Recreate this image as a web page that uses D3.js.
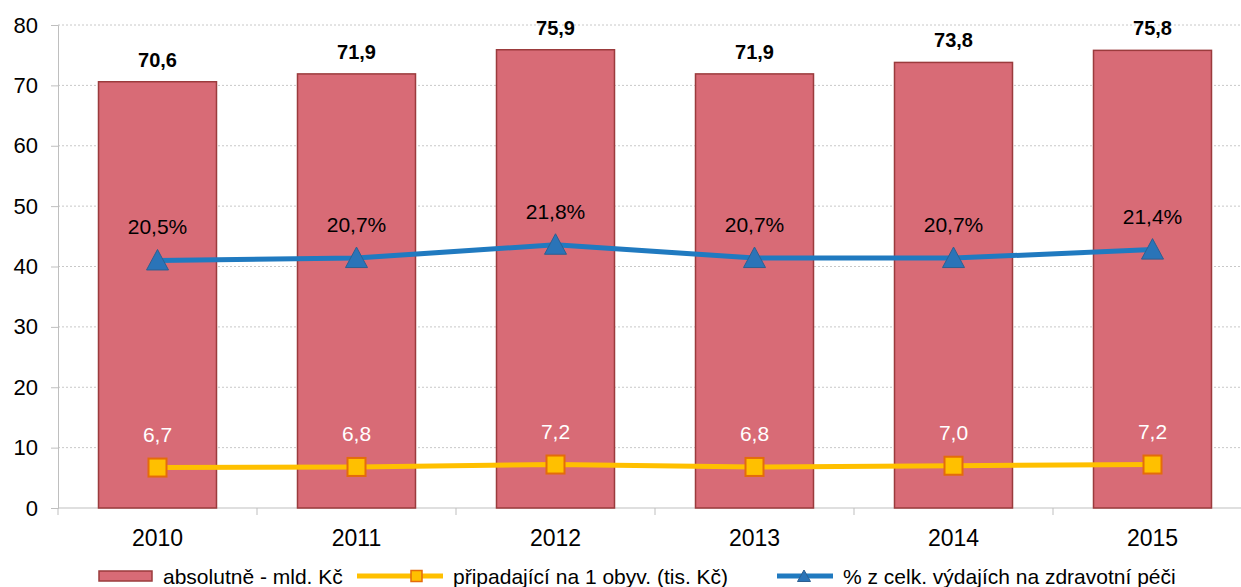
<!DOCTYPE html>
<html>
<head>
<meta charset="utf-8">
<script src="https://cdn.jsdelivr.net/npm/d3@7"></script>
<style>
  body { margin: 0; background: #fff; }
  text { font-family: "Liberation Sans", Arial, sans-serif; }
</style>
</head>
<body>
<div id="chart"></div>
<script>
// data
var years = ["2010", "2011", "2012", "2013", "2014", "2015"];
var absolutni = [70.6, 71.9, 75.9, 71.9, 73.8, 75.8];
var naObyv = [6.7, 6.8, 7.2, 6.8, 7.0, 7.2];
var podil = [20.5, 20.7, 21.8, 20.7, 20.7, 21.4];
var yTicks = [0, 10, 20, 30, 40, 50, 60, 70, 80];
var legendLabels = ["absolutně - mld. Kč", "připadající na 1 obyv. (tis. Kč)", "% z celk. výdajích na zdravotní péči"];

var W = 1241, H = 587;
var margin = {top: 25, left: 58, bottom: 79};
var plotBottom = H - margin.bottom;

var fmt = function(v) { return v.toFixed(1).replace(".", ","); };

var svg = d3.select("#chart").append("svg")
  .attr("width", W)
  .attr("height", H);

var x = d3.scaleBand()
  .domain(years)
  .range([margin.left, margin.left + 1194])
  .paddingInner(0.407)
  .paddingOuter(0.2035);

var y = d3.scaleLinear().domain([0, 80]).range([plotBottom, margin.top]);
// secondary axis for percentages (hidden)
var y2 = d3.scaleLinear().domain([0, 40]).range([plotBottom, margin.top]);

// gridlines
svg.append("g")
  .selectAll("line")
  .data(yTicks.filter(function(d) { return d > 0; }))
  .enter().append("line")
  .attr("x1", margin.left).attr("x2", W)
  .attr("y1", function(d) { return y(d); })
  .attr("y2", function(d) { return y(d); })
  .attr("stroke", "#c8c8c8")
  .attr("stroke-width", 1)
  .attr("stroke-dasharray", "2,2");

// y axis
var yAxis = svg.append("g")
  .attr("transform", "translate(" + margin.left + ",0)")
  .call(d3.axisLeft(y).tickValues(yTicks).tickSize(7).tickPadding(13).tickFormat(d3.format("d")));
yAxis.selectAll("path, line").attr("stroke", "#bfbfbf");
yAxis.selectAll("text").style("font-size", "22px").attr("fill", "#000");

// x axis with ticks at category boundaries
var bounds = d3.range(years.length + 1).map(function(i) { return margin.left + i * x.step(); });
svg.append("line")
  .attr("x1", margin.left).attr("x2", W)
  .attr("y1", plotBottom).attr("y2", plotBottom)
  .attr("stroke", "#bfbfbf");
svg.append("g").selectAll("line")
  .data(bounds)
  .enter().append("line")
  .attr("x1", function(d) { return d; }).attr("x2", function(d) { return d; })
  .attr("y1", plotBottom).attr("y2", plotBottom + 7)
  .attr("stroke", "#bfbfbf");
svg.append("g").selectAll("text")
  .data(years)
  .enter().append("text")
  .attr("x", function(d) { return x(d) + x.bandwidth() / 2; })
  .attr("y", plotBottom + 38)
  .attr("text-anchor", "middle")
  .style("font-size", "23px")
  .text(function(d) { return d; });

// bars
svg.append("g").selectAll("rect")
  .data(absolutni)
  .enter().append("rect")
  .attr("x", function(d, i) { return x(years[i]); })
  .attr("y", function(d) { return y(d); })
  .attr("width", x.bandwidth())
  .attr("height", function(d) { return plotBottom - y(d); })
  .attr("fill", "#d86b76")
  .attr("stroke", "#9b3b3d")
  .attr("stroke-width", 1.5);

svg.append("g").selectAll("text")
  .data(absolutni)
  .enter().append("text")
  .attr("x", function(d, i) { return x(years[i]) + x.bandwidth() / 2; })
  .attr("y", function(d) { return y(d) - 15; })
  .attr("text-anchor", "middle")
  .style("font-size", "20px")
  .style("font-weight", "bold")
  .text(fmt);

var cx = function(d, i) { return x(years[i]) + x.bandwidth() / 2; };

// blue line (percent)
var lineBlue = d3.line()
  .x(cx)
  .y(function(d) { return y2(d); });
svg.append("path")
  .datum(podil)
  .attr("d", lineBlue)
  .attr("fill", "none")
  .attr("stroke", "#207ac0")
  .attr("stroke-width", 5);
svg.append("g").selectAll("path")
  .data(podil)
  .enter().append("path")
  .attr("transform", function(d, i) { return "translate(" + cx(d, i) + "," + y2(d) + ")"; })
  .attr("d", "M0,-11L11,9.5L-11,9.5Z")
  .attr("fill", "#2a74b8")
  .attr("stroke", "#2d5f90")
  .attr("stroke-width", 1);
svg.append("g").selectAll("text")
  .data(podil)
  .enter().append("text")
  .attr("x", cx)
  .attr("y", function(d) { return y2(d) - 26; })
  .attr("text-anchor", "middle")
  .style("font-size", "21px")
  .text(function(d) { return fmt(d) + "%"; });

// yellow line (per capita)
var lineYellow = d3.line()
  .x(cx)
  .y(function(d) { return y(d); });
svg.append("path")
  .datum(naObyv)
  .attr("d", lineYellow)
  .attr("fill", "none")
  .attr("stroke", "#ffc000")
  .attr("stroke-width", 5);
svg.append("g").selectAll("rect")
  .data(naObyv)
  .enter().append("rect")
  .attr("x", function(d, i) { return cx(d, i) - 9; })
  .attr("y", function(d) { return y(d) - 9; })
  .attr("width", 18).attr("height", 18)
  .attr("fill", "#ffc000")
  .attr("stroke", "#e46c0a")
  .attr("stroke-width", 2);
svg.append("g").selectAll("text")
  .data(naObyv)
  .enter().append("text")
  .attr("x", cx)
  .attr("y", function(d) { return y(d) - 26; })
  .attr("text-anchor", "middle")
  .attr("fill", "#fff")
  .style("font-size", "21px")
  .text(fmt);

// legend
var ly = 576;
var leg = svg.append("g");
leg.append("rect")
  .attr("x", 99).attr("y", ly - 5).attr("width", 53).attr("height", 10)
  .attr("fill", "#d86b76").attr("stroke", "#9b3b3d").attr("stroke-width", 1.5);
leg.append("text").attr("x", 163).attr("y", ly + 8).style("font-size", "21px").text(legendLabels[0]);

leg.append("line")
  .attr("x1", 357).attr("x2", 443).attr("y1", ly).attr("y2", ly)
  .attr("stroke", "#ffc000").attr("stroke-width", 5);
leg.append("rect")
  .attr("x", 411).attr("y", ly - 5.5).attr("width", 11).attr("height", 11)
  .attr("fill", "#ffc000").attr("stroke", "#e46c0a").attr("stroke-width", 1.5);
leg.append("text").attr("x", 453).attr("y", ly + 8).style("font-size", "21px").text(legendLabels[1]);

leg.append("line")
  .attr("x1", 777).attr("x2", 833).attr("y1", ly).attr("y2", ly)
  .attr("stroke", "#207ac0").attr("stroke-width", 5);
leg.append("path")
  .attr("transform", "translate(804," + ly + ")")
  .attr("d", "M0,-6L6.5,5.5L-6.5,5.5Z")
  .attr("fill", "#2a74b8").attr("stroke", "#2d5f90");
leg.append("text").attr("x", 843).attr("y", ly + 8).style("font-size", "21px").text(legendLabels[2]);
</script>
</body>
</html>
